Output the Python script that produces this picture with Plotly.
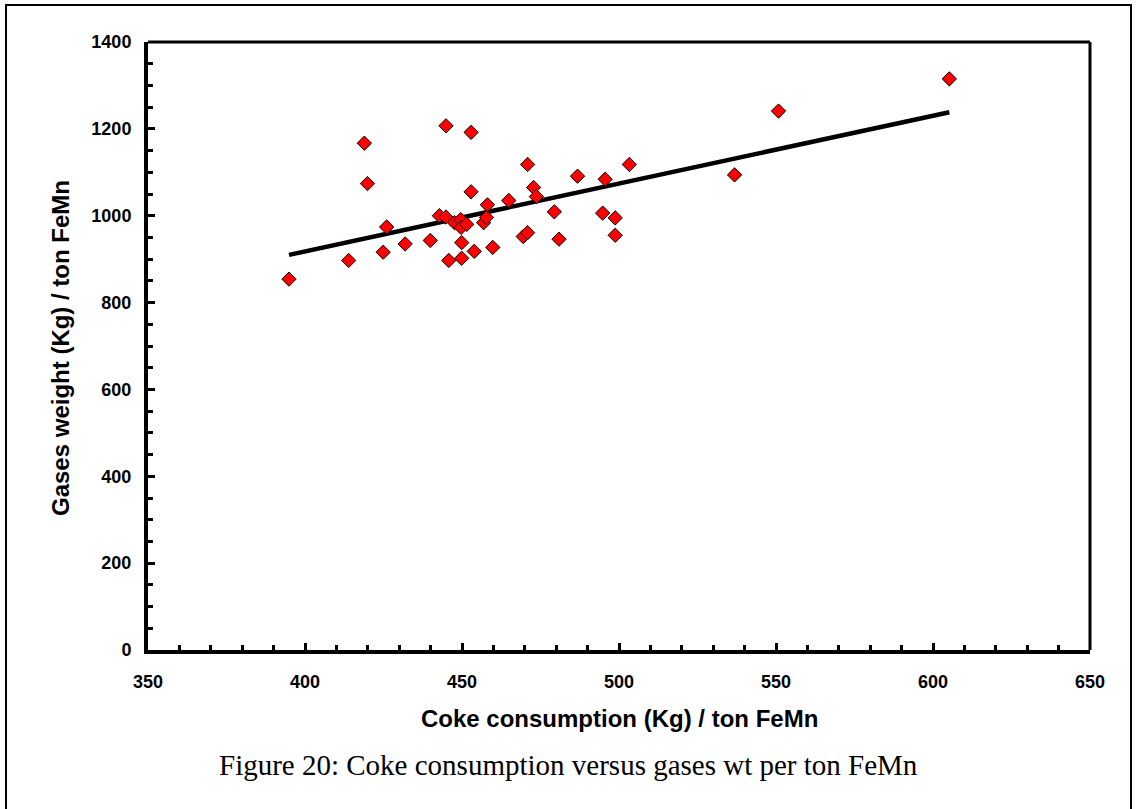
import numpy as np
import plotly.graph_objects as go

# Coke consumption (kg per ton FeMn) and gases weight (kg per ton FeMn)
coke = [394.9, 413.9, 418.9, 419.9, 424.9, 426.0, 431.9, 439.9, 442.8, 444.9,
        444.9, 445.8, 447.6, 449.6, 449.7, 449.9, 449.9, 451.5, 452.9, 452.9,
        453.9, 456.9, 457.8, 458.1, 459.8, 464.9, 469.5, 470.9, 470.9, 472.8,
        473.7, 479.4, 480.9, 486.8, 494.8, 495.6, 498.8, 498.8, 503.3, 536.8,
        550.8, 605.2]
gases = [854, 897, 1167, 1074, 916, 974, 935, 943, 1000, 997,
         1207, 897, 984, 991, 973, 938, 902, 980, 1192, 1055,
         918, 984, 996, 1025, 927, 1035, 952, 961, 1118, 1065,
         1044, 1009, 946, 1091, 1006, 1084, 995, 955, 1118, 1094,
         1241, 1315]

x_ticks = [350, 400, 450, 500, 550, 600, 650]
y_ticks = [0, 200, 400, 600, 800, 1000, 1200, 1400]

x_title = "Coke consumption (Kg) / ton FeMn"
y_title = "Gases weight (Kg) / ton FeMn"
caption = "Figure 20: Coke consumption versus gases wt per ton FeMn"

# Least-squares linear trend through the data
slope, intercept = np.polyfit(coke, gases, 1)
trend_x = np.array([min(coke), max(coke)])
trend_y = slope * trend_x + intercept

W, H = 1136, 809
L, R, T, B = 148, 1090, 42, 650


def px(x):
    return (x - L) / (R - L)


def py(y):
    return (B - y) / (B - T)


fig = go.Figure()
fig.add_trace(go.Scatter(
    x=trend_x, y=trend_y, mode="lines",
    line=dict(color="black", width=4.5), hoverinfo="skip", showlegend=False,
))
fig.add_trace(go.Scatter(
    x=coke, y=gases, mode="markers",
    marker=dict(symbol="diamond", size=11, color="#ff0000",
                line=dict(color="black", width=1)),
    showlegend=False,
))

tick_font = dict(family="Liberation Sans, Arial", size=18, color="black", weight="bold")
title_font = dict(family="Liberation Sans, Arial", size=24, color="black", weight="bold")

fig.update_layout(
    width=W, height=H,
    margin=dict(l=L, r=W - R, t=T, b=H - B),
    paper_bgcolor="white", plot_bgcolor="white",
    xaxis=dict(
        range=[350, 650], tickvals=x_ticks, ticktext=[str(v) for v in x_ticks],
        showgrid=False, zeroline=False,
        showline=True, linecolor="black", linewidth=4,
        ticks="inside", ticklen=7, tickwidth=3, tickcolor="black",
        minor=dict(dtick=10, ticks="inside", ticklen=5, tickwidth=3,
                   tickcolor="black", showgrid=False),
        tickfont=tick_font, ticklabelstandoff=12,
    ),
    yaxis=dict(
        range=[0, 1400], tickvals=y_ticks, ticktext=[str(v) for v in y_ticks],
        showgrid=False, zeroline=False,
        showline=True, linecolor="black", linewidth=4,
        ticks="inside", ticklen=7, tickwidth=3, tickcolor="black",
        minor=dict(dtick=50, ticks="inside", ticklen=5, tickwidth=3,
                   tickcolor="black", showgrid=False),
        tickfont=tick_font, ticklabelstandoff=9,
    ),
    shapes=[
        # top and right frame of the plot area
        dict(type="line", xref="paper", yref="paper", x0=0, x1=1, y0=1, y1=1,
             line=dict(color="black", width=3)),
        dict(type="line", xref="paper", yref="paper", x0=1, x1=1, y0=0, y1=1,
             line=dict(color="black", width=3)),
        # outer border around the chart
        dict(type="rect", xref="paper", yref="paper",
             x0=px(6), x1=px(1131), y0=py(830), y1=py(5),
             line=dict(color="black", width=2), layer="below"),
    ],
    annotations=[
        dict(text=x_title, xref="paper", yref="paper", x=px(619), y=py(718),
             showarrow=False, font=title_font, xanchor="center", yanchor="middle"),
        dict(text=y_title, xref="paper", yref="paper", x=px(60), y=py(348),
             showarrow=False, font=title_font, textangle=-90,
             xanchor="center", yanchor="middle"),
        dict(text=caption, xref="paper", yref="paper", x=px(568), y=py(765),
             showarrow=False,
             font=dict(family="Liberation Serif, Times New Roman", size=29, color="black"),
             xanchor="center", yanchor="middle"),
    ],
)

fig.write_html("out.html")
